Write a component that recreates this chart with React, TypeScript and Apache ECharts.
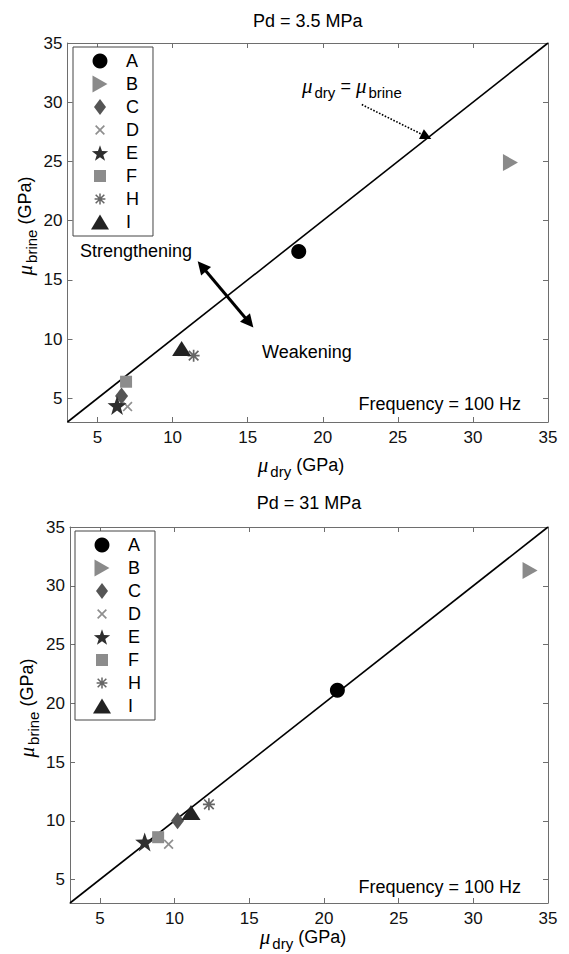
import React, { useEffect, useRef } from 'react';
import * as echarts from 'echarts';

const categories = ['A', 'B', 'C', 'D', 'E', 'F', 'H', 'I'];
const muDryLow = [18.4, 32.5, 6.6, 7.0, 6.3, 6.9, 11.4, 10.6];
const muBrineLow = [17.4, 24.9, 5.2, 4.3, 4.4, 6.4, 8.6, 9.2];
const muDryHigh = [20.9, 33.8, 10.2, 9.6, 8.0, 8.9, 12.3, 11.1];
const muBrineHigh = [21.1, 31.3, 10.0, 8.0, 8.2, 8.6, 11.4, 10.7];
const tickValues = [5, 10, 15, 20, 25, 30, 35];
const axisMin = 3;
const axisMax = 35;
const identityLine = [[3, 3], [35, 35]];
const panelTitles = ['Pd = 3.5 MPa', 'Pd = 31 MPa'];
const frequencyText = 'Frequency = 100 Hz';
const doubleArrowCoords = [[11.95, 16.15], [15.1, 11.4]];
const pointerArrowCoords = [[22.6, 29.8], [26.9, 27.1]];

const FONT = '"Liberation Sans", Arial, Helvetica, sans-serif';
const SERIF = '"Liberation Serif", "Times New Roman", serif';

const STAR = 'path://M10,0L12.35,6.76L19.51,6.91L13.8,11.24L15.88,18.09L10,14L4.12,18.09L6.2,11.24L0.49,6.91L7.65,6.76Z';
const XMARK = 'path://M1.2,0L5,3.8L8.8,0L10,1.2L6.2,5L10,8.8L8.8,10L5,6.2L1.2,10L0,8.8L3.8,5L0,1.2Z';
const ASTER = 'path://M4.3,0H5.7V10H4.3Z M0,4.3H10V5.7H0Z M1.5,0.5L9.5,8.5L8.5,9.5L0.5,1.5Z M8.5,0.5L9.5,1.5L1.5,9.5L0.5,8.5Z';
const RTRI = 'path://M0,0L10,6L0,12Z';

const markerSymbols = ['circle', RTRI, 'diamond', XMARK, STAR, 'rect', ASTER, 'triangle'];
const markerSizes: any[] = [15, [15, 17], [13, 17], 10, 19, 12, 12, [19, 15]];
const markerColors = ['#000000', '#8a8a8a', '#555555', '#8f8f8f', '#2e2e2e', '#8c8c8c', '#666666', '#222222'];

// legend icons drawn inside a padded 20x20 box so each keeps its own size
const BOX = 'path://M0,0M20,20';
const legendIcons = [
  BOX + 'M10,1.7A8.3,8.3 0 1 1 9.99,1.7Z',
  BOX + 'M1.7,0.6L18.3,10L1.7,19.4Z',
  BOX + 'M10,1.1L16.7,10L10,18.9L3.3,10Z',
  BOX + 'M5.82,4.5L10,8.68L14.18,4.5L15.5,5.82L11.32,10L15.5,14.18L14.18,15.5L10,11.32L5.82,15.5L4.5,14.18L8.68,10L4.5,5.82Z',
  'path://M-0.5,-1M20.5,19.1M10,0L12.35,6.76L19.51,6.91L13.8,11.24L15.88,18.09L10,14L4.12,18.09L6.2,11.24L0.49,6.91L7.65,6.76Z',
  BOX + 'M3.3,3.3H16.7V16.7H3.3Z',
  BOX + 'M9.16,4H10.84V16H9.16Z M4,9.16H16V10.84H4Z M5.8,4.6L15.4,14.2L14.2,15.4L4.6,5.8Z M14.2,4.6L15.4,5.8L5.8,15.4L4.6,14.2Z',
  BOX + 'M10,1.7L20,18.3L0,18.3Z',
];

const grids = [
  { left: 67.5, top: 43, width: 480.5, height: 379 },
  { left: 70, top: 527, width: 478, height: 376 },
];

function axis(gridIndex: number, position: string, labels: boolean, isY: boolean) {
  return {
    type: 'value',
    gridIndex,
    position,
    min: axisMin,
    max: axisMax,
    axisLine: { show: true, onZero: false, lineStyle: { color: '#6e6e6e', width: 1 } },
    axisTick: { show: true, inside: true, length: 5, customValues: tickValues, lineStyle: { color: '#6e6e6e' } },
    axisLabel: {
      show: labels,
      customValues: tickValues,
      color: '#111',
      fontSize: 17,
      fontFamily: FONT,
      margin: isY ? 5 : 7,
      showMinLabel: true,
      showMaxLabel: true,
    },
    splitLine: { show: false },
  };
}

const richBase = (size: number) => ({
  mu: { fontFamily: SERIF, fontStyle: 'italic', fontSize: size + 3, fill: '#000' },
  sub: { fontFamily: FONT, fontSize: size - 3, fill: '#000', padding: [12, 0, 0, 2] },
  n: { fontFamily: FONT, fontSize: size, fill: '#000' },
});

export default function App() {
  const ref = useRef<HTMLDivElement>(null);
  useEffect(() => {
    if (!ref.current) return;
    const chart = echarts.init(ref.current, undefined, { renderer: 'svg' });
    const panels = [
      { dry: muDryLow, brine: muBrineLow },
      { dry: muDryHigh, brine: muBrineHigh },
    ];
    const series: any[] = [];
    panels.forEach((p, g) => {
      series.push({
        type: 'line',
        name: 'identity' + g,
        xAxisIndex: g * 2,
        yAxisIndex: g * 2,
        data: identityLine,
        symbol: 'none',
        lineStyle: { color: '#000', width: 1.6 },
        silent: true,
        z: 1,
      });
      categories.forEach((c, i) => {
        series.push({
          type: 'scatter',
          name: c,
          xAxisIndex: g * 2,
          yAxisIndex: g * 2,
          data: [[p.dry[i], p.brine[i]]],
          symbol: markerSymbols[i],
          symbolSize: markerSizes[i],
          itemStyle: { color: markerColors[i], opacity: 1 },
          z: 3,
        });
      });
    });
    series.push({
      type: 'lines',
      coordinateSystem: 'cartesian2d',
      xAxisIndex: 0,
      yAxisIndex: 0,
      data: [{ coords: doubleArrowCoords }],
      symbol: ['triangle', 'triangle'],
      symbolSize: 13,
      lineStyle: { color: '#000', width: 3, opacity: 1 },
      silent: true,
      z: 4,
    });
    series.push({
      type: 'lines',
      coordinateSystem: 'cartesian2d',
      xAxisIndex: 0,
      yAxisIndex: 0,
      data: [{ coords: pointerArrowCoords }],
      symbol: ['none', 'triangle'],
      symbolSize: 11,
      lineStyle: { color: '#000', width: 1.6, type: 'dotted', opacity: 1 },
      silent: true,
      z: 4,
    });

    const texts: any[] = [];
    const tx = (text: string, x: number, y: number, align: string, extra: any = {}) => ({
      type: 'text',
      x,
      y,
      silent: true,
      z: 20,
      style: { text, fill: '#000', fontSize: 18, fontFamily: FONT, align, verticalAlign: 'middle', ...extra },
    });
    texts.push(tx(panelTitles[0], 307.75, 21, 'center'));
    texts.push(tx(panelTitles[1], 309, 503, 'center'));
    texts.push(tx(frequencyText, 521, 404, 'right'));
    texts.push(tx(frequencyText, 521, 887, 'right'));
    texts.push(tx('Strengthening', 80, 251, 'left'));
    texts.push(tx('Weakening', 262, 352, 'left'));
    texts.push(tx('{mu|μ}{sub|dry}{n| = }{mu|μ}{sub|brine}', 302, 86, 'left', { rich: richBase(18) }));
    texts.push(tx('{mu|μ}{sub|dry}{n| (GPa)}', 301, 465, 'center', { rich: richBase(18) }));
    texts.push(tx('{mu|μ}{sub|dry}{n| (GPa)}', 303, 937, 'center', { rich: richBase(18) }));
    texts.push({ ...tx('{mu|μ}{sub|brine}{n| (GPa)}', 25, 226, 'center', { rich: richBase(18) }), rotation: Math.PI / 2 });
    texts.push({ ...tx('{mu|μ}{sub|brine}{n| (GPa)}', 27, 708, 'center', { rich: richBase(18) }), rotation: Math.PI / 2 });

    chart.setOption({
      animation: false,
      backgroundColor: '#fff',
      grid: grids,
      xAxis: [axis(0, 'bottom', true, false), axis(0, 'top', false, false), axis(1, 'bottom', true, false), axis(1, 'top', false, false)],
      yAxis: [axis(0, 'left', true, true), axis(0, 'right', false, true), axis(1, 'left', true, true), axis(1, 'right', false, true)],
      legend: [0, 1].map((g) => ({
        data: categories.map((c, i) => ({ name: c, icon: legendIcons[i] })),
        orient: 'vertical',
        left: g ? 75 : 73,
        top: g ? 531 : 47,
        itemWidth: 18,
        itemHeight: 18,
        itemGap: 5,
        symbolKeepAspect: true,
        padding: [5, 14, 5, 18],
        borderColor: '#444',
        borderWidth: 1,
        backgroundColor: '#fff',
        selectedMode: false,
        textStyle: { fontSize: 18, lineHeight: 18, color: '#000', fontFamily: FONT, padding: [0, 0, 0, 12] },
        z: 10,
      })),
      series,
      graphic: texts,
    });
    return () => chart.dispose();
  }, []);
  return <div ref={ref} style={{ position: 'fixed', left: 0, top: 0, width: 569, height: 954 }} />;
}
